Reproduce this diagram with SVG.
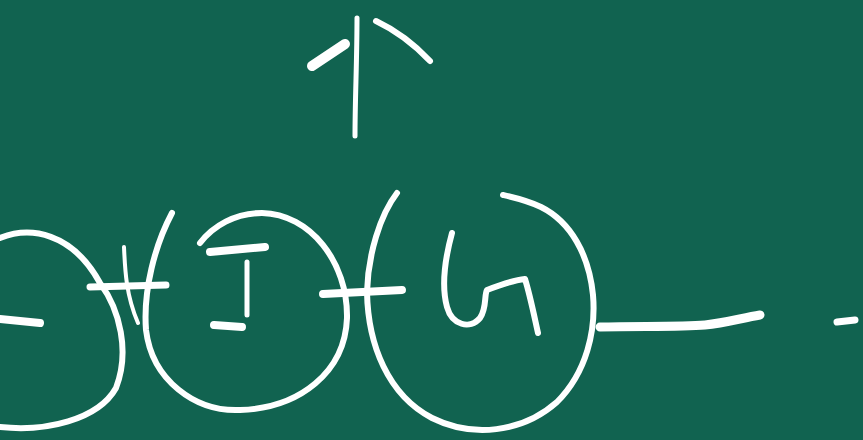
<svg xmlns="http://www.w3.org/2000/svg" width="863" height="440" viewBox="0 0 863 440">
<style>
.c{fill:none;stroke:#ffffff;stroke-linecap:round;stroke-linejoin:round}
</style>
<rect x="0" y="0" width="863" height="440" fill="#116350"/>
<g id="top-mark" class="c">
<path d="M312,66 L345,44" stroke-width="10"/>
<path d="M357,18 C357,60 355,100 355,136" stroke-width="5"/>
<path d="M376,21 C395,30 415,45 430,61" stroke-width="6"/>
</g>
<g id="circle1" class="c">
<path d="M0,238 C30,226 72,232 100,283 C120,310 130,352 116,388 C98,420 45,432 0,427" stroke-width="6"/>
<path d="M0,319 L40,323" stroke-width="8"/>
</g>
<g id="circle2" class="c">
<path d="M172,213 C155,245 143,290 146,330 C152,380 195,412 240,410 C300,408 345,372 347,318 C348,262 310,214 262,213 C235,213 213,226 200,243" stroke-width="6"/>
<path d="M124,247 C125,270 126,295 138,323" stroke-width="4"/>
<path d="M210,252 L265,247" stroke-width="8"/>
<path d="M247,262 L247,315" stroke-width="5"/>
<path d="M214,325 L242,327" stroke-width="8"/>
</g>
<g id="circle3" class="c">
<path d="M397,193 C380,215 368,255 367,292 C368,345 388,395 432,418 C472,438 522,433 557,402 C587,372 596,330 593,295 C589,255 571,222 541,207 C526,200 512,197 503,195" stroke-width="6"/>
<path d="M452,233 C446,255 441,285 447,307 C452,325 470,330 480,318 C487,308 484,295 487,290 C500,285 515,280 525,279 C530,295 534,315 538,333" stroke-width="6"/>
</g>
<g id="connectors" class="c">
<path d="M90,287 L166,285" stroke-width="7"/>
<path d="M323,294 L402,290" stroke-width="8"/>
<path d="M600,327 C640,326 680,327 705,325 C725,323 742,318 760,315" stroke-width="9"/>
<path d="M837,322 L855,320" stroke-width="7"/>
</g>
</svg>
